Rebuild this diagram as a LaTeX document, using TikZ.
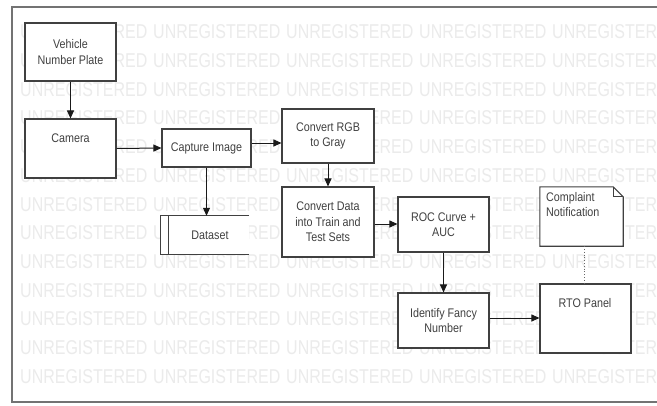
\documentclass[tikz,border=0pt]{standalone}
\usepackage{fontspec}
\setmainfont{Liberation Sans}[FakeStretch=0.86]
\newfontfamily\wmfont{Liberation Sans}[FakeStretch=0.8]
\usetikzlibrary{arrows.meta}
\begin{document}
\begin{tikzpicture}[x=1pt,y=-1pt,
  boxline/.style={draw=black!75,line width=1.1pt},
  box/.style={boxline,fill=white,inner sep=0pt,align=center,text=black!75,font=\fontsize{12.5}{15.5}\selectfont},
  lbl/.style={inner sep=0pt,align=center,text=black!75,font=\fontsize{12.5}{15.5}\selectfont},
  arr/.style={line width=1pt,black!90,-{Triangle[length=8pt,width=7pt]}},
  wm/.style={anchor=west,inner sep=0pt,text=black!8,font=\wmfont\fontsize{20}{20}\selectfont}]
\useasboundingbox (0,0) rectangle (657,405);
\fill[white] (0,0) rectangle (657,405);
% watermark
\begin{scope}
\clip (13,8) rectangle (657,401);
\foreach \r in {0,...,12} \foreach \c in {0,...,4}
  \node[wm] (wm-\r-\c) at ({20+133*\c},{32+28.7*\r}) {UNREGISTERED};
\end{scope}
% frame
\draw[black!55,line width=1.6pt] (657,7) -- (12,7) -- (12,402) -- (657,402);
% boxes
\node[box,minimum width=91pt,minimum height=58pt] (vnp) at (70.5,52) {Vehicle\\Number Plate};
\node[box,minimum width=91pt,minimum height=59pt] (cam) at (70.5,148.5) {};
\node[lbl] (camt) at (70.5,138) {Camera};
\node[box,minimum width=89pt,minimum height=38pt] (cap) at (206.5,148) {Capture Image};
\node[minimum width=88pt,minimum height=38pt,inner sep=0pt,fill=white] (ds) at (205,235) {};
\draw[boxline] (ds.north east) -- (ds.north west) -- (ds.south west) -- (ds.south east);
\draw[boxline] ([xshift=8pt]ds.north west) -- ([xshift=8pt]ds.south west);
\node[lbl] (dst) at (210,235) {Dataset};
\node[box,minimum width=92pt,minimum height=54pt] (rgb) at (328,136) {Convert RGB\\to Gray};
\node[box,minimum width=92pt,minimum height=70pt] (ctt) at (328,222) {Convert Data\\into Train and\\Test Sets};
\node[box,minimum width=91pt,minimum height=55pt] (roc) at (443.5,224.5) {ROC Curve +\\AUC};
\node[box,minimum width=91pt,minimum height=55pt] (idf) at (443.5,320.5) {Identify Fancy\\Number};
\node[minimum width=83pt,minimum height=59pt,inner sep=0pt] (cn) at (581.5,216.5) {};
\filldraw[boxline,fill=white] (cn.north west) -- ([xshift=-10pt]cn.north east) -- ([yshift=-10pt]cn.north east) -- (cn.south east) -- (cn.south west) -- cycle;
\draw[boxline,line width=0.7pt] ([xshift=-10pt]cn.north east) -- ([xshift=-10pt,yshift=-10pt]cn.north east) -- ([yshift=-10pt]cn.north east);
\node[lbl,align=left,anchor=north west] (cnt) at (546,192) {Complaint\\Notification};
\node[box,minimum width=91pt,minimum height=69pt] (rto) at (585.5,318.5) {};
\node[lbl] (rtot) at (585,303) {RTO Panel};
% connectors
\coordinate (y143) at (0,143);
\coordinate (y224) at (0,224);
\coordinate (y318) at (0,318);
\coordinate (x584) at (584,0);
\draw[arr] (vnp) -- (cam);
\draw[arr] (cam.east) -- (cap.west);
\draw[arr] (cap.east |- y143) -- (rgb.west |- y143);
\draw[arr] (cap.south) -- (cap.south |- ds.north);
\draw[arr] (rgb) -- (ctt);
\draw[arr] (ctt.east |- y224) -- (roc.west |- y224);
\draw[arr] (roc) -- (idf);
\draw[arr] (idf.east |- y318) -- (rto.west |- y318);
\draw[black!60,line width=0.8pt,dotted] (cn.south -| x584) -- (rto.north -| x584);
\end{tikzpicture}
\end{document}
